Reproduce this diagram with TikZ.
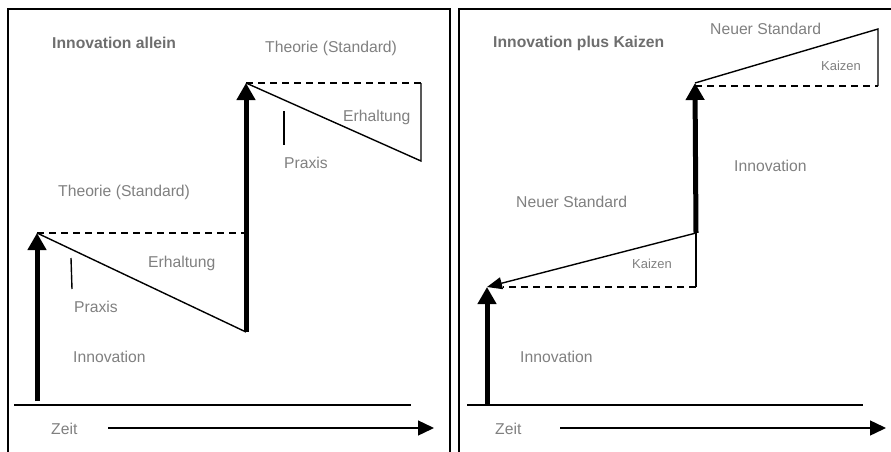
\documentclass[tikz,border=0pt]{standalone}
\usepackage{fontspec}
\setmainfont{Liberation Sans}
\usetikzlibrary{arrows.meta}
\definecolor{labelgray}{RGB}{128,128,128}
\definecolor{titlegray}{RGB}{110,110,110}
\begin{document}
\begin{tikzpicture}
  [x=1pt,y=-1pt,line join=miter,
   every node/.style={inner sep=0pt,anchor=west,text=labelgray,font=\fontsize{15.7}{18}\selectfont},
   title/.style={text=titlegray,font=\fontsize{15.7}{18}\selectfont\bfseries},
   small/.style={font=\fontsize{13}{15}\selectfont},
   frame/.style={line width=1.4pt},
   thinline/.style={line width=1.4pt},
   dashline/.style={line width=1.4pt,dash pattern=on 7pt off 5pt},
   jump/.style={line width=5pt,-{Triangle[length=17pt,width=18pt]}},
   timeline/.style={line width=1.4pt,-{Triangle[length=16pt,width=15pt]}}]
  \useasboundingbox (0,0) rectangle (891,452);

  % left panel: Innovation allein
  \draw[frame] (8,470) -- (8,9) -- (450,9) -- (450,470);
  \coordinate (l0) at (37,401);
  \coordinate (l1) at (37,233);
  \coordinate (l1e) at (246,233);
  \coordinate (l2) at (246,332);
  \coordinate (l3) at (246,83);
  \coordinate (l3e) at (421,83);
  \coordinate (l4) at (421,161);
  \coordinate (lp1) at (71,258);
  \coordinate (lp2) at (72,289);
  \coordinate (lp3) at (284,111);
  \coordinate (lp4) at (284,145);
  \coordinate (lb1) at (14,405);
  \coordinate (lb2) at (411,405);
  \coordinate (lt1) at (108,428);
  \coordinate (lt2) at (434,428);

  \draw[jump] (l0) -- (l1);
  \draw[dashline] (l1) -- (l1e);
  \draw[thinline] (l1) -- (l2);
  \draw[jump] (l2) -- (l3);
  \draw[dashline] (l3) -- (l3e);
  \draw[thinline] (l3) -- (l4) -- (l3e);
  \draw[thinline] (lp1) -- (lp2);
  \draw[thinline] (lp3) -- (lp4);
  \draw[thinline] (lb1) -- (lb2);
  \draw[timeline] (lt1) -- (lt2);

  \node[title] (ltitle) at (52,43) {Innovation allein};
  \node (ltheo2) at (265,48) {Theorie (Standard)};
  \node (lerh2) at (343,117) {Erhaltung};
  \node (lprax2) at (284,163) {Praxis};
  \node (ltheo1) at (58,192) {Theorie (Standard)};
  \node (lerh1) at (148,263) {Erhaltung};
  \node (lprax1) at (74,307) {Praxis};
  \node (linno) at (73,357) {Innovation};
  \node (lzeit) at (51,429) {Zeit};

  % right panel: Innovation plus Kaizen
  \draw[frame] (459,470) -- (459,9) -- (895,9) -- (895,470);
  \coordinate (r0) at (487,405);
  \coordinate (r1) at (487,287);
  \coordinate (r1e) at (696,287);
  \coordinate (r2) at (696,233);
  \coordinate (r3) at (695,83);
  \coordinate (r3e) at (878,86);
  \coordinate (r4) at (878,29);
  \coordinate (rb1) at (467,405);
  \coordinate (rb2) at (863,405);
  \coordinate (rt1) at (560,428);
  \coordinate (rt2) at (886,428);

  \draw[jump] (r0) -- (r1);
  \draw[dashline] (r1e) -- (503,287);
  \draw[thinline,-{Triangle[length=15pt,width=12pt]}] (r2) -- (r1);
  \draw[thinline] (r2) -- (r1e);
  \draw[jump] (r2) -- (r3);
  \draw[dashline] (695,86) -- (r3e);
  \draw[thinline] (r3) -- (r4) -- (r3e);
  \draw[thinline] (rb1) -- (rb2);
  \draw[timeline] (rt1) -- (rt2);

  \node[title] (rtitle) at (493,43) {Innovation plus Kaizen};
  \node (rneu2) at (710,29) {Neuer Standard};
  \node[small] (rkai2) at (821,66) {Kaizen};
  \node (rinno2) at (734,166) {Innovation};
  \node (rneu1) at (516,202) {Neuer Standard};
  \node[small] (rkai1) at (632,264) {Kaizen};
  \node (rinno1) at (520,357) {Innovation};
  \node (rzeit) at (495,429) {Zeit};
\end{tikzpicture}
\end{document}
